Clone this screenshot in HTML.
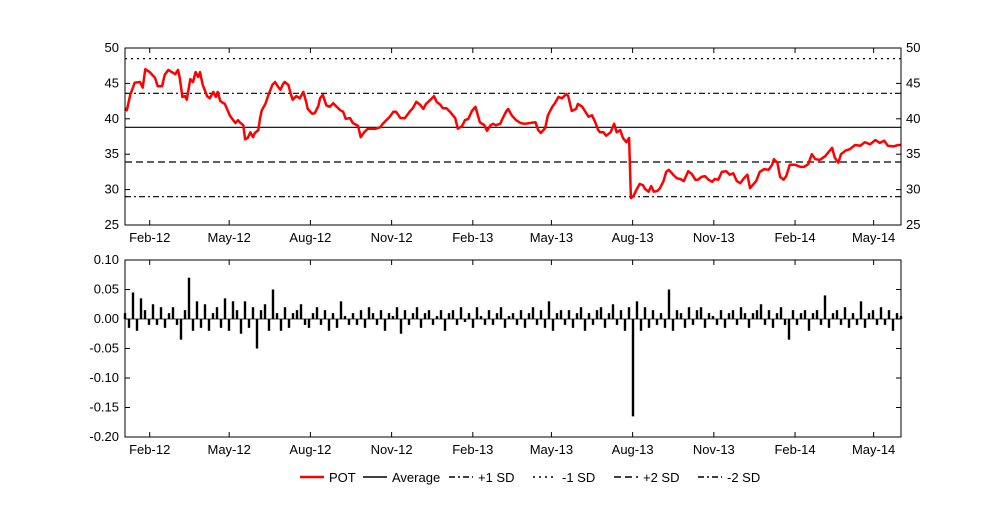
<!DOCTYPE html>
<html><head><meta charset="utf-8"><style>
body{margin:0;background:#fff;}
svg text{font-family:"Liberation Sans",sans-serif;font-size:13px;fill:#000;}
</style></head><body>
<svg id="c" width="1000" height="500" xmlns="http://www.w3.org/2000/svg"></svg>
<script>
const priceDays=[0,2,6,11,17,20,23,28,34,37,42,45,49,53,57,60,62,65,68,70,74,77,80,83,85,88,93,96,100,103,105,108,113,119,125,128,130,134,136,139,142,145,147,151,153,155,159,162,167,170,173,176,179,181,185,188,190,194,198,202,205,207,212,215,219,221,224,228,232,236,239,244,247,250,255,258,264,267,271,275,280,284,289,292,296,300,304,307,312,317,323,326,330,334,338,341,346,350,353,357,360,364,368,374,377,382,385,389,393,397,399,402,407,410,414,417,420,425,428,432,434,438,443,448,453,459,465,468,471,476,479,484,487,491,495,500,502,506,511,513,518,521,525,529,532,536,538,542,545,550,554,557,561,564,568,571,573,576,579,583,587,589,593,596,599,603,606,610,613,616,621,625,629,633,638,642,646,649,653,657,661,665,668,672,676,681,685,689,693,697,701,705,708,710,715,719,724,729,733,735,739,742,746,749,753,759,765,769,774,778,782,787,793,797,801,804,808,811,816,821,827,833,838,844,850,855,860,864,870,876,879];
const priceVals=[41.5,41.2,43.4,45.1,45.2,44.4,47.0,46.6,45.8,44.6,44.6,46.2,46.9,46.6,46.3,46.9,45.8,43.1,43.2,42.7,45.6,45.2,46.6,45.9,46.6,44.8,43.2,42.9,43.8,43.1,43.8,42.5,42.1,40.4,39.4,39.8,39.5,39.1,37.1,37.3,38.1,37.4,38.0,38.4,40.1,41.2,42.1,43.2,44.8,45.2,44.6,44.1,44.9,45.2,44.8,43.4,42.7,43.2,42.9,43.8,42.5,41.4,40.7,40.8,41.8,42.9,43.4,41.9,41.7,42.2,41.8,41.2,41.0,40.0,40.1,39.4,39.0,37.4,38.1,38.6,38.6,38.6,38.8,39.3,39.8,40.3,41.0,41.0,40.1,40.1,41.1,41.5,42.4,42.0,41.4,42.1,42.7,43.2,42.4,42.0,41.5,41.5,41.0,40.1,38.6,39.0,39.8,40.0,41.1,41.7,40.8,39.5,39.1,38.3,39.1,39.3,39.1,39.3,40.1,41.1,41.4,40.5,39.8,39.4,39.3,39.4,39.5,38.4,38.0,38.7,40.5,41.7,42.2,43.1,42.9,43.5,43.2,41.1,41.4,42.1,41.7,41.1,40.3,40.5,39.7,38.4,38.1,38.1,37.6,38.1,39.3,38.1,38.4,37.3,36.7,37.3,28.8,29.1,29.9,30.8,30.6,30.1,29.7,30.5,29.7,29.8,30.2,31.2,32.5,32.8,32.1,31.6,31.5,31.2,32.6,32.2,31.4,31.4,31.8,31.9,31.4,31.1,31.5,31.4,32.5,32.6,32.1,32.3,31.2,30.9,31.6,32.1,30.2,30.5,31.2,32.5,32.9,32.8,33.5,34.3,33.8,31.8,31.4,31.9,33.5,33.5,33.2,33.2,33.6,35.0,34.3,34.2,34.7,35.3,35.9,34.5,33.8,35.0,35.5,35.7,36.3,36.2,36.7,36.4,37.0,36.6,36.9,36.2,36.1,36.3,36.3];
const refLevels=[48.5,43.6,38.8,33.9,29.0];
const refDash=["2,4","6,3,2,3","","7,4","6,3,2,3"];
const returnVals=[0.01,-0.015,0.045,-0.02,0.035,0.015,-0.01,0.025,-0.01,0.02,-0.015,0.01,0.02,-0.01,-0.035,0.015,0.07,-0.02,0.03,-0.015,0.025,-0.02,0.01,0.02,-0.015,0.035,-0.02,0.03,0.015,-0.025,0.03,-0.015,0.02,-0.05,0.015,0.025,-0.02,0.05,0.01,-0.02,0.02,-0.015,0.01,0.015,0.025,-0.01,-0.015,0.01,0.02,-0.01,0.015,-0.02,0.01,-0.015,0.03,0.005,-0.01,0.01,-0.01,0.015,-0.015,0.02,0.01,-0.01,0.015,-0.02,0.01,0.005,0.02,-0.025,0.015,-0.01,0.01,0.02,-0.015,0.01,0.015,-0.01,0.005,0.015,-0.02,0.01,0.015,-0.01,0.02,-0.005,0.01,-0.015,0.02,0.005,-0.01,0.015,-0.01,0.01,0.02,-0.015,0.005,0.01,-0.01,0.015,-0.015,0.01,0.02,-0.01,0.015,-0.015,0.03,-0.02,0.01,0.015,-0.01,0.015,-0.015,0.01,0.02,-0.02,0.01,-0.01,0.015,0.02,-0.015,0.01,0.025,-0.01,0.015,-0.02,0.02,-0.165,0.03,-0.02,0.02,-0.015,0.015,-0.01,0.01,-0.015,0.05,-0.02,0.015,0.01,-0.015,0.02,-0.01,0.015,0.02,-0.015,0.01,0.005,-0.01,0.015,-0.015,0.01,0.015,-0.01,0.02,0.01,-0.015,0.01,0.015,0.025,-0.01,0.015,-0.015,0.01,0.02,-0.01,-0.035,0.015,-0.01,0.01,0.015,-0.02,0.01,0.015,-0.01,0.04,-0.015,0.01,0.015,-0.01,0.02,-0.015,0.01,-0.01,0.03,-0.015,0.01,0.015,-0.01,0.02,-0.01,0.015,-0.02,0.01,0.005];
const xTickDays=[28,118,210,302,394,483,575,667,759,848];
const xTickLabels=["Feb-12","May-12","Aug-12","Nov-12","Feb-13","May-13","Aug-13","Nov-13","Feb-14","May-14"];
const topTicks=[25,30,35,40,45,50];
const botTicks=[0.10,0.05,0.00,-0.05,-0.10,-0.15,-0.20];

const NS="http://www.w3.org/2000/svg", svg=document.getElementById('c');
function el(t,a,p){const e=document.createElementNS(NS,t);for(const k in a)e.setAttribute(k,a[k]);(p||svg).appendChild(e);return e;}
const L=125,R=901,D0=0,D1=879;
const x=d=>L+(d-D0)/(D1-D0)*(R-L);
const yT=v=>225-(v-25)/25*177;
const yB=v=>437-(v+0.20)/0.30*177;

let g=el('g',{});
refLevels.forEach((v,i)=>{const l=el('line',{x1:L,x2:R,y1:yT(v),y2:yT(v),stroke:'#000','stroke-width':1.2,'stroke-dasharray':refDash[i]},g);
});
let pts=priceDays.map((d,i)=>x(d).toFixed(1)+','+yT(priceVals[i]).toFixed(1)).join(' ');
let pl=el('polyline',{points:pts,fill:'none',stroke:'#f00','stroke-width':2.5,'stroke-linejoin':'round'},g);

el('rect',{x:L,y:48,width:R-L,height:177,fill:'none',stroke:'#000','stroke-width':1},g);
topTicks.forEach(v=>{const y=yT(v);
el('line',{x1:L,x2:L+5,y1:y,y2:y,stroke:'#000'},g);el('line',{x1:R-5,x2:R,y1:y,y2:y,stroke:'#000'},g);
const t=el('text',{x:119,y:y+4,'text-anchor':'end'},g);t.textContent=v;
const t2=el('text',{x:906,y:y+4},g);t2.textContent=v;});
xTickDays.forEach((d,i)=>{const xx=x(d);el('line',{x1:xx,x2:xx,y1:225,y2:220,stroke:'#000'},g);el('line',{x1:xx,x2:xx,y1:48,y2:53,stroke:'#000'},g);
const t=el('text',{x:xx,y:242,'text-anchor':'middle'},g);t.textContent=xTickLabels[i];});

let g2=el('g',{});
returnVals.forEach((v,i)=>{const xx=x(i*(D1-D0)/(returnVals.length-1));
const b=el('line',{x1:xx,x2:xx,y1:yB(0),y2:yB(v),stroke:'#000','stroke-width':2.4},g2);
});
el('line',{x1:L,x2:R,y1:yB(0),y2:yB(0),stroke:'#000','stroke-width':0.8},g2);
el('rect',{x:L,y:260,width:R-L,height:177,fill:'none',stroke:'#000','stroke-width':1},g2);
botTicks.forEach(v=>{const y=yB(v);
el('line',{x1:L,x2:L+5,y1:y,y2:y,stroke:'#000'},g2);el('line',{x1:R-5,x2:R,y1:y,y2:y,stroke:'#000'},g2);
const t=el('text',{x:119,y:y+4,'text-anchor':'end'},g2);t.textContent=v.toFixed(2);});
xTickDays.forEach((d,i)=>{const xx=x(d);el('line',{x1:xx,x2:xx,y1:437,y2:432,stroke:'#000'},g2);el('line',{x1:xx,x2:xx,y1:260,y2:265,stroke:'#000'},g2);
const t=el('text',{x:xx,y:454,'text-anchor':'middle'},g2);t.textContent=xTickLabels[i];});

const legNames=["POT","Average","+1 SD","-1 SD","+2 SD","-2 SD"];
const legDash=["","","6,3,2,3","2,4","7,4","6,3,2,3"];
const legX=[300,363,449,533,614,698];
let lg=el('g',{});
legNames.forEach((n,i)=>{const e=el('g',{},lg);
el('line',{x1:legX[i],x2:legX[i]+24,y1:477,y2:477,stroke:i==0?'#f00':'#000','stroke-width':i==0?2.5:1.5,'stroke-dasharray':legDash[i]},e);
const t=el('text',{x:legX[i]+29,y:482},e);t.textContent=n;});
</script>
</body></html>
